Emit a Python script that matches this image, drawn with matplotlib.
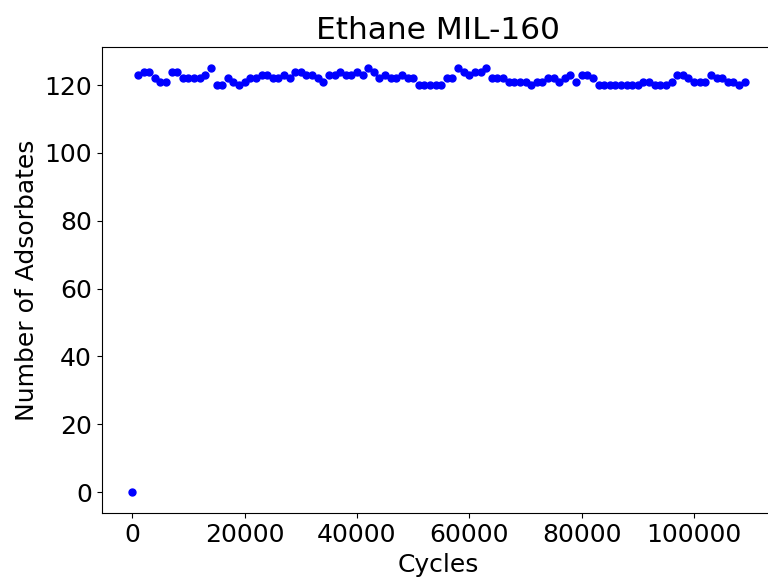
import numpy as np
import matplotlib
matplotlib.use("Agg")
import matplotlib.pyplot as plt

cycles = np.arange(0, 110000, 1000)
adsorbates = [0,
    123, 124, 124, 122, 121, 121, 124, 124, 122, 122,
    122, 122, 123, 125, 120, 120, 122, 121, 120, 121,
    122, 122, 123, 123, 122, 122, 123, 122, 124, 124,
    123, 123, 122, 121, 123, 123, 124, 123, 123, 124,
    123, 125, 124, 122, 123, 122, 122, 123, 122, 122,
    120, 120, 120, 120, 120, 122, 122, 125, 124, 123,
    124, 124, 125, 122, 122, 122, 121, 121, 121, 121,
    120, 121, 121, 122, 122, 121, 122, 123, 121, 123,
    123, 122, 120, 120, 120, 120, 120, 120, 120, 120,
    121, 121, 120, 120, 120, 121, 123, 123, 122, 121,
    121, 121, 123, 122, 122, 121, 121, 120, 121]

fig = plt.figure(figsize=(7.68, 5.78), dpi=100)
ax = fig.add_axes([0.1324, 0.112, 0.877, 0.8067])
ax.scatter(cycles, adsorbates, s=25, color="blue")
ax.set_title("Ethane MIL-160", fontsize=22.5)
ax.set_xlabel("Cycles", fontsize=18)
ax.set_ylabel("Number of Adsorbates", fontsize=18)
ax.tick_params(labelsize=18)

plt.savefig("out.png", dpi=100)
